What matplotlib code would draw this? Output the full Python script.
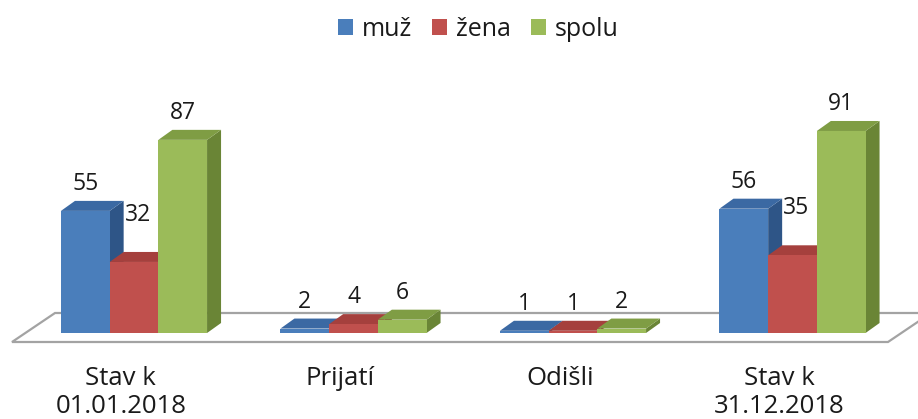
import matplotlib
matplotlib.use("Agg")
import matplotlib.pyplot as plt
from matplotlib.patches import Rectangle, Polygon, Patch

plt.rcParams['font.family'] = ['Open Sans', 'DejaVu Sans']

# ---- data ----
categories = ["Stav k\n01.01.2018", "Prijatí", "Odišli", "Stav k\n31.12.2018"]
series_names = ["muž", "žena", "spolu"]
muz = [55, 2, 1, 56]
zena = [32, 4, 1, 35]
spolu = [87, 6, 2, 91]
series_values = [muz, zena, spolu]

# ---- style ----
front_cols = ['#4A7EBB', '#C0504D', '#9BBB59']
top_cols = ['#3B69A3', '#A5403D', '#7F9D44']
side_cols = ['#2E5587', '#8A3431', '#6A8536']
text_col = '#1a1a1a'

W, H = 918, 419
PX_X = 219.5          # pixels per category
PX_Y = 2.22           # pixels per value unit
X0_PX = 134           # pixel x of first category centre
Y0_PX = 333           # pixel y of value 0 (from top)

fig = plt.figure(figsize=(W / 100, H / 100), dpi=100)
ax = fig.add_axes([0, 0, 1, 1])
ax.set_xlim(-X0_PX / PX_X, (W - X0_PX) / PX_X)
ax.set_ylim((Y0_PX - H) / PX_Y, Y0_PX / PX_Y)
ax.axis('off')

bw = 48.7 / PX_X
dx = 14 / PX_X
dy = 10 / PX_Y

# floor
vf = (Y0_PX - 342) / PX_Y
vb = (Y0_PX - 313) / PX_Y
floor = Polygon([((12 - X0_PX) / PX_X, vf), ((888 - X0_PX) / PX_X, vf),
                 ((931 - X0_PX) / PX_X, vb), ((55 - X0_PX) / PX_X, vb)],
                closed=True, facecolor='white', edgecolor='#A3A3A3', lw=1.6, zorder=1)
ax.add_patch(floor)

z = 2
for i in range(len(categories)):
    for j, vals in enumerate(series_values):
        h = vals[i]
        x0 = i + (j - 1.5) * bw
        x1 = x0 + bw
        side = Polygon([(x1, 0), (x1 + dx, dy), (x1 + dx, h + dy), (x1, h)],
                       closed=True, facecolor=side_cols[j], edgecolor='none', zorder=z)
        top = Polygon([(x0, h), (x1, h), (x1 + dx, h + dy), (x0 + dx, h + dy)],
                      closed=True, facecolor=top_cols[j], edgecolor='none', zorder=z + 1)
        front = Rectangle((x0, 0), bw, h, facecolor=front_cols[j], edgecolor='none', zorder=z + 2)
        ax.add_patch(side)
        ax.add_patch(top)
        ax.add_patch(front)
        z += 3
        lift = 27
        xoff = 0
        if j == 1 and h < series_values[0][i]:
            lift = 47
            xoff = 4
        ax.annotate(str(h), xy=(x0 + bw / 2, h), xytext=(xoff * 0.72, lift * 0.72),
                    textcoords='offset points', ha='center', va='center',
                    fontsize=16.5, color=text_col, zorder=100)

# category labels
line_base = [(Y0_PX - 385) / PX_Y, (Y0_PX - 413) / PX_Y]
for i, cat in enumerate(categories):
    for k, line in enumerate(cat.split("\n")):
        ax.text(i - 0.06, line_base[k], line, ha='center', va='baseline',
                fontsize=18.5, color=text_col)

handles = [Patch(facecolor=c, edgecolor='none') for c in front_cols]
fig.legend(handles, series_names, loc='center', bbox_to_anchor=(478 / W, 1 - 29 / H),
           ncol=3, frameon=False, fontsize=18, handlelength=0.6, handleheight=0.6,
           handletextpad=0.35, columnspacing=0.8, labelcolor=text_col)

fig.savefig('out.png', dpi=100)
